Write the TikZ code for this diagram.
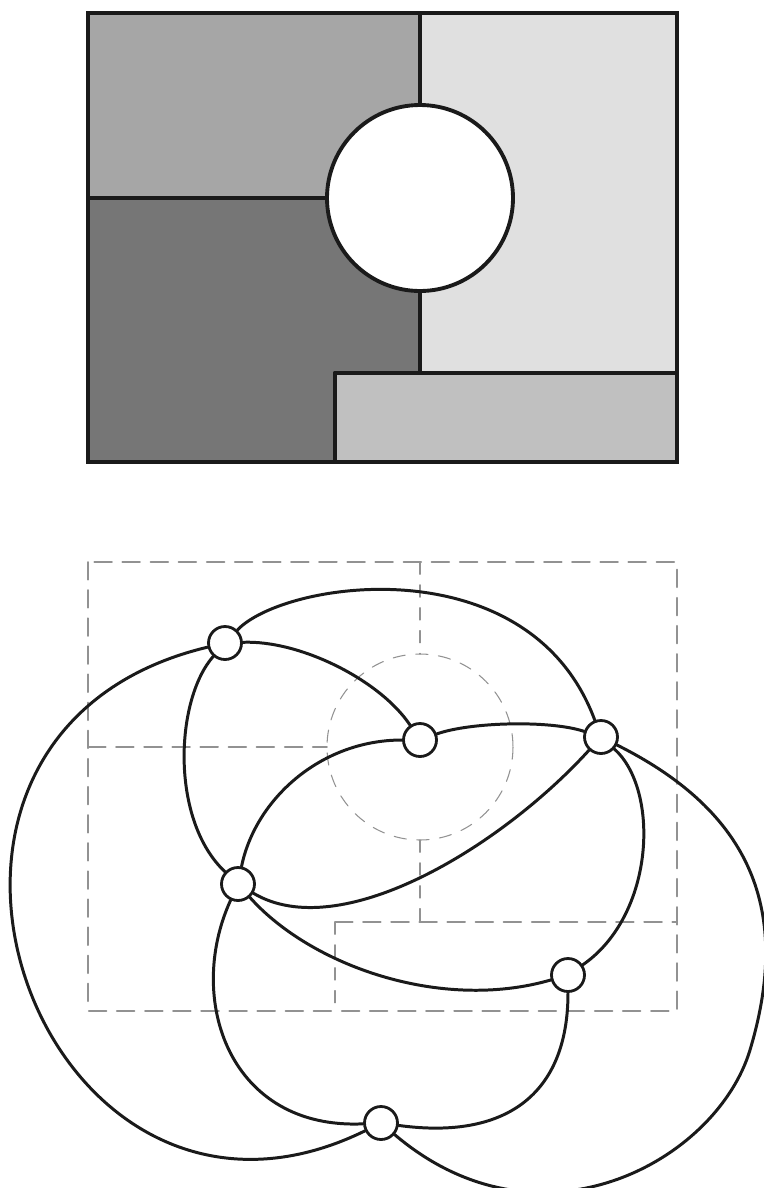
\documentclass[tikz,border=0pt]{standalone}
\usepackage{tikz}
\usetikzlibrary{calc}
\definecolor{tinta}{HTML}{1A1A1A}
\definecolor{grisA}{HTML}{A6A6A6}
\definecolor{grisB}{HTML}{767676}
\definecolor{grisC}{HTML}{E0E0E0}
\definecolor{grisD}{HTML}{C0C0C0}
\definecolor{traza}{HTML}{929292}
\tikzset{
  frontera/.style={draw=tinta,line width=2.2pt},
  contorno/.style={traza,line width=1.1pt,dash pattern=on 10pt off 6pt},
  contornofino/.style={traza,line width=0.6pt,dash pattern=on 7pt off 6pt},
  vert/.style={circle,draw=tinta,fill=white,line width=1.6pt,minimum size=0.66cm,inner sep=0pt},
  arista/.style={draw=tinta,line width=1.7pt},
}
\begin{document}
\begin{tikzpicture}[x=0.02cm,y=-0.02cm,line cap=round]
  \useasboundingbox (0,0) rectangle (764,1188);
  % mapa
  \begin{scope}
    \fill[grisA] (88,13) rectangle (420,198);
    \fill[grisB] (88,198) -- (420,198) -- (420,373) -- (335,373) -- (335,462) -- (88,462) -- cycle;
    \fill[grisC] (420,13) rectangle (677,373);
    \fill[grisD] (335,373) rectangle (677,462);
    \fill[white] (420,198) circle[radius=93];
    \draw[frontera] (88,13) rectangle (677,462);
    \draw[frontera] (420,13) -- (420,105);
    \draw[frontera] (88,198) -- (327,198);
    \draw[frontera] (420,291) -- (420,373);
    \draw[frontera] (335,373) -- (677,373);
    \draw[frontera] (335,373) -- (335,462);
    \draw[frontera] (420,198) circle[radius=93];
  \end{scope}
  % grafo dual
  \begin{scope}[shift={(0,549)}]
    \draw[contorno] (88,13) rectangle (677,462);
    \draw[contornofino] (420,13) -- (420,105);
    \draw[contorno] (88,198) -- (327,198);
    \draw[contornofino] (420,291) -- (420,373);
    \draw[contorno] (335,373) -- (677,373);
    \draw[contornofino] (335,373) -- (335,462);
    \draw[contornofino] (420,198) circle[radius=93];
  \end{scope}
  \node[vert] (tl) at (225,643) {};
  \node[vert] (ci) at (420,740) {};
  \node[vert] (rt) at (601,737) {};
  \node[vert] (bl) at (238,884) {};
  \node[vert] (br) at (568,975) {};
  \node[vert] (ou) at (381,1123) {};
  \draw[arista] (tl) .. controls (-160,735) and (40,1290) .. (ou);
  \draw[arista] (tl) .. controls (285,580) and (530,545) .. (rt);
  \draw[arista] (tl) .. controls (300,640) and (380,680) .. (ci);
  \draw[arista] (tl) .. controls (175,700) and (170,820) .. (bl);
  \draw[arista] (ci) .. controls (470,722) and (550,720) .. (rt);
  \draw[arista] (bl) .. controls (255,800) and (320,740) .. (ci);
  \draw[arista] (bl) .. controls (340,945) and (501,847) .. (rt);
  \draw[arista] (rt) .. controls (660,790) and (655,915) .. (br);
  \draw[arista] (rt) .. controls (751,812) and (792,910) .. (750,1050)
                     .. controls (717,1160) and (541,1259) .. (ou);
  \draw[arista] (bl) .. controls (310,965) and (440,1012) .. (br);
  \draw[arista] (bl) .. controls (185,1000) and (230,1130) .. (ou);
  \draw[arista] (br) .. controls (568,1095) and (505,1140) .. (ou);
\end{tikzpicture}
\end{document}
